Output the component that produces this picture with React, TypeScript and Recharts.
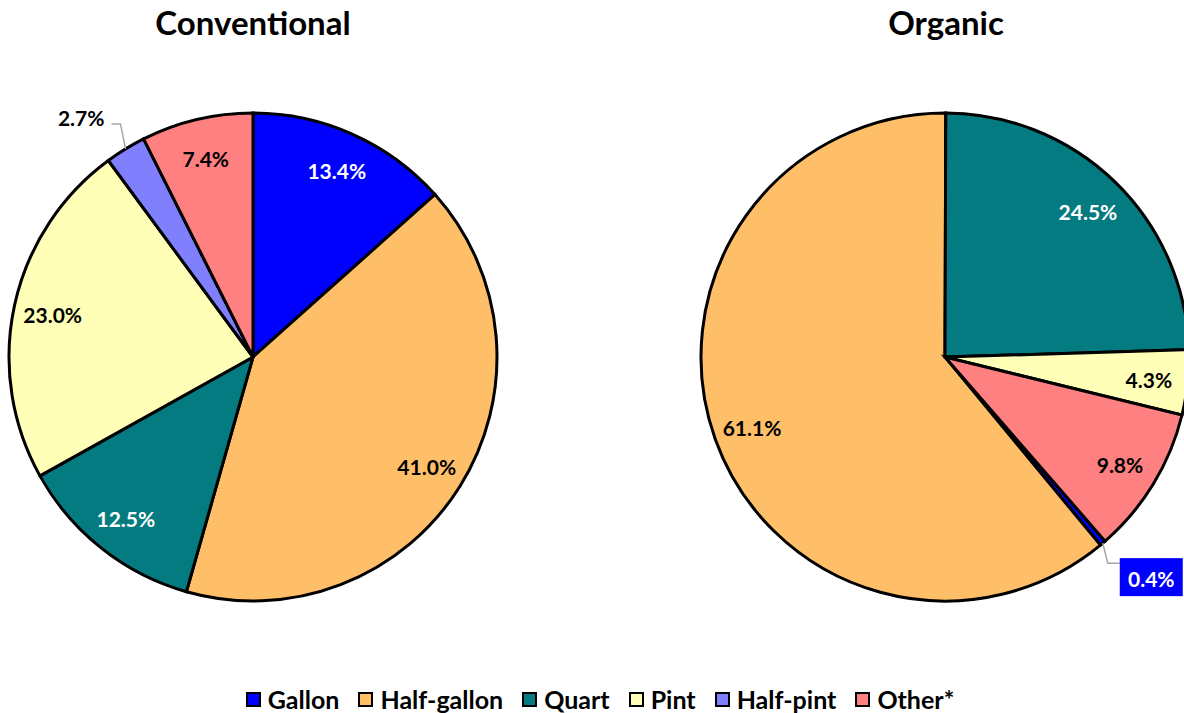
import React from 'react';
import { PieChart, Pie, Cell, Legend } from 'recharts';

const categories = ['Gallon', 'Half-gallon', 'Quart', 'Pint', 'Half-pint', 'Other*'];
const conventionalShares = [13.4, 41.0, 12.5, 23.0, 2.7, 7.4];
const organicShares = [0.4, 61.1, 24.5, 4.3, 0, 9.8];

const colors = ['#0000FF', '#FFBF69', '#047B80', '#FFFFB7', '#8080FF', '#FF8080'];
const labelColors = ['#FFFFFF', '#000000', '#FFFFFF', '#000000', '#000000', '#000000'];

const FONT = 'Lato, "Open Sans", "Liberation Sans", sans-serif';
const RAD = Math.PI / 180;
const R = 244;

type Slice = { name: string; value: number; idx: number; callout?: 'left' | 'box' };

const conventionalData: Slice[] = categories.map((name, idx) => ({
  name,
  value: conventionalShares[idx],
  idx,
  callout: name === 'Half-pint' ? 'left' : undefined,
}));

// half-pint is 0 for organic, so it is left out of the pie
const organicData: Slice[] = categories
  .map((name, idx) => ({
    name,
    value: organicShares[idx],
    idx,
    callout: name === 'Gallon' ? ('box' as const) : undefined,
  }))
  .filter((d) => d.value > 0);

const renderLabel = (props: any) => {
  const { cx, cy, midAngle, outerRadius, payload, value } = props;
  const slice: Slice = payload && payload.payload ? payload.payload : payload;
  const text = `${Number(value).toFixed(1)}%`;
  const cos = Math.cos(-midAngle * RAD);
  const sin = Math.sin(-midAngle * RAD);

  if (slice.callout === 'left') {
    const ax = cx + outerRadius * cos;
    const ay = cy + outerRadius * sin;
    return (
      <g>
        <polyline
          points={`${ax},${ay} ${ax - 5},${ay - 25} ${ax - 14},${ay - 25}`}
          fill="none"
          stroke="#A6A6A6"
          strokeWidth={1.5}
        />
        <text x={ax - 21} y={ay - 31} textAnchor="end" dominantBaseline="central"
          fill="#000" fontFamily={FONT} fontWeight={700} fontSize={21}>
          {text}
        </text>
      </g>
    );
  }

  if (slice.callout === 'box') {
    const ax = cx + outerRadius * cos;
    const ay = cy + outerRadius * sin;
    return (
      <g>
        <polyline
          points={`${ax},${ay} ${ax + 5},${ay + 20} ${ax + 17},${ay + 20}`}
          fill="none"
          stroke="#A6A6A6"
          strokeWidth={1.5}
        />
        <rect x={ax + 17} y={ay + 15} width={63} height={38} fill={colors[slice.idx]} />
        <text x={ax + 48.5} y={ay + 35} textAnchor="middle" dominantBaseline="central"
          fill="#FFFFFF" fontFamily={FONT} fontWeight={700} fontSize={21}>
          {text}
        </text>
      </g>
    );
  }

  const r = outerRadius * 0.84;
  return (
    <text
      x={cx + r * cos}
      y={cy + r * sin + 1}
      textAnchor="middle"
      dominantBaseline="central"
      fill={labelColors[slice.idx]}
      fontFamily={FONT}
      fontWeight={700}
      fontSize={21}
    >
      {text}
    </text>
  );
};

const LegendRow = () => (
  <div style={{ display: 'flex', justifyContent: 'center', alignItems: 'center', width: 1200, fontFamily: FONT }}>
    {categories.map((name, i) => (
      <div key={name} style={{ display: 'flex', alignItems: 'center', marginRight: i < categories.length - 1 ? 19 : 0 }}>
        <span
          style={{
            display: 'inline-block',
            width: 11,
            height: 11,
            background: colors[i],
            border: '2px solid #000',
            marginRight: 7,
          }}
        />
        <span style={{ fontSize: 25, fontWeight: 700, color: '#000', lineHeight: '28px' }}>{name}</span>
      </div>
    ))}
  </div>
);

const titleStyle: React.CSSProperties = {
  position: 'absolute',
  top: 0,
  width: 400,
  textAlign: 'center',
  fontFamily: FONT,
  fontWeight: 700,
  fontSize: 33,
  lineHeight: '44px',
  color: '#000',
};

export default function App() {
  return (
    <div style={{ position: 'absolute', left: 0, top: 0, width: 1184, height: 713, background: '#fff', overflow: 'hidden' }}>
      <div style={{ ...titleStyle, left: 253 - 200 }}>Conventional</div>
      <div style={{ ...titleStyle, left: 946 - 200 }}>Organic</div>
      <PieChart width={1184} height={713} margin={{ top: 0, right: 0, bottom: 0, left: 0 }}>
        <Pie
          data={conventionalData}
          dataKey="value"
          nameKey="name"
          cx={253}
          cy={357}
          outerRadius={R}
          startAngle={90}
          endAngle={-270}
          stroke="#000"
          strokeWidth={3}
          label={renderLabel}
          labelLine={false}
          isAnimationActive={false}
        >
          {conventionalData.map((d) => (
            <Cell key={d.name} fill={colors[d.idx]} />
          ))}
        </Pie>
        <Pie
          data={organicData}
          dataKey="value"
          nameKey="name"
          cx={945}
          cy={357}
          outerRadius={R}
          startAngle={-49}
          endAngle={-409}
          stroke="#000"
          strokeWidth={3}
          label={renderLabel}
          labelLine={false}
          isAnimationActive={false}
        >
          {organicData.map((d) => (
            <Cell key={d.name} fill={colors[d.idx]} />
          ))}
        </Pie>
        <Legend
          content={() => <LegendRow />}
          wrapperStyle={{ position: 'absolute', left: 0, top: 685, width: 1200 }}
        />
      </PieChart>
    </div>
  );
}
